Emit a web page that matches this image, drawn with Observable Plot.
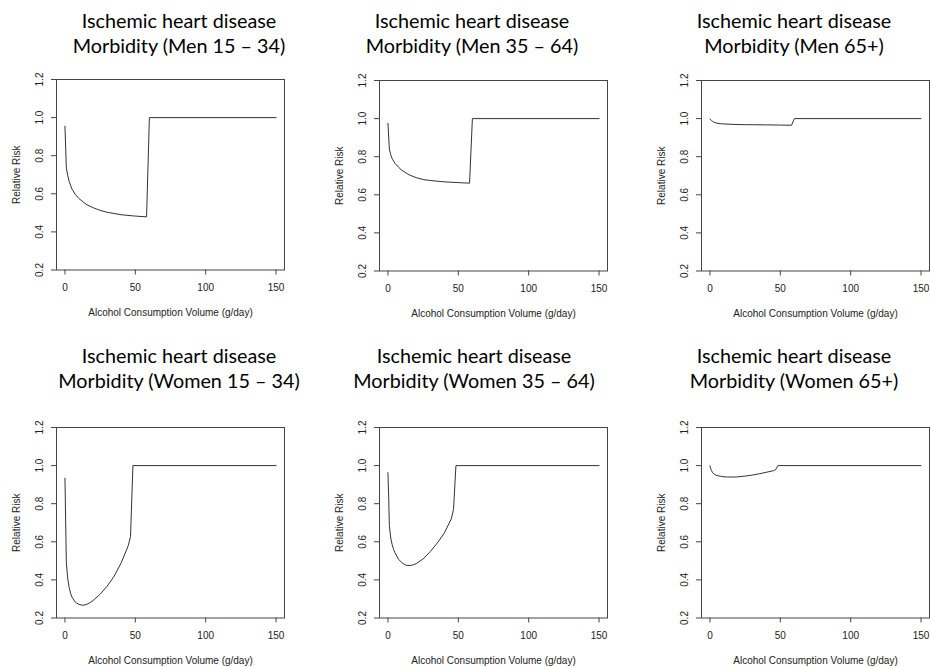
<!DOCTYPE html>
<html>
<head>
<meta charset="utf-8">
<script src="https://cdn.jsdelivr.net/npm/d3@7"></script>
<script src="https://cdn.jsdelivr.net/npm/@observablehq/plot@0.6"></script>
<style>
  html, body { margin: 0; padding: 0; background: #fff; }
  #root { position: relative; width: 930px; height: 667px; overflow: hidden; background: #fff; }
  .ttl { position: absolute; transform: translateX(-50%); white-space: nowrap; text-align: center;
         font-family: Lato, "Open Sans", sans-serif; font-size: 19.8px; line-height: 25px; color: #000; }
  .pnl { position: absolute; }
  .pnl svg { max-width: none !important; display: block; }
</style>
</head>
<body>
<div id="root"></div>
<script>
// ---- data ----
const titleLine1 = "Ischemic heart disease";
const titles = [
  "Morbidity (Men 15 – 34)", "Morbidity (Men 35 – 64)", "Morbidity (Men 65+)",
  "Morbidity (Women 15 – 34)", "Morbidity (Women 35 – 64)", "Morbidity (Women 65+)"
];
const xLabel = "Alcohol Consumption Volume (g/day)";
const yLabel = "Relative Risk";
const xTicks = [0, 50, 100, 150];
const yTicks = [0.2, 0.4, 0.6, 0.8, 1.0, 1.2];

const menX = [0, 1, 2, 3, 5, 7.5, 10, 15, 20, 25, 30, 40, 50, 58, 60, 150];
const men15_34 = [0.955, 0.735, 0.695, 0.665, 0.625, 0.595, 0.575, 0.545, 0.527, 0.513, 0.503, 0.49, 0.483, 0.479, 1.0, 1.0];
const men35_64 = [0.975, 0.84, 0.81, 0.79, 0.765, 0.745, 0.728, 0.705, 0.69, 0.68, 0.675, 0.668, 0.664, 0.661, 1.0, 1.0];
const men65 = [0.998, 0.99, 0.985, 0.98, 0.976, 0.973, 0.972, 0.97, 0.969, 0.968, 0.968, 0.967, 0.966, 0.965, 1.0, 1.0];

const womenX = [0, 0.5, 1, 2, 3, 4, 5, 7.5, 10, 12.5, 15, 17.5, 20, 25, 30, 35, 40, 45, 46.6, 48.3, 150];
const women15_34 = [0.934, 0.71, 0.49, 0.405, 0.36, 0.33, 0.31, 0.282, 0.271, 0.267, 0.27, 0.279, 0.292, 0.325, 0.367, 0.42, 0.49, 0.58, 0.628, 1.0, 1.0];
const women35_64 = [0.963, 0.84, 0.685, 0.62, 0.585, 0.56, 0.543, 0.508, 0.49, 0.478, 0.475, 0.478, 0.485, 0.51, 0.548, 0.593, 0.645, 0.72, 0.77, 1.0, 1.0];
const women65 = [0.998, 0.985, 0.975, 0.962, 0.955, 0.951, 0.948, 0.944, 0.941, 0.94, 0.94, 0.94, 0.941, 0.945, 0.95, 0.957, 0.965, 0.973, 0.978, 1.0, 1.0];

const seriesX = [menX, menX, menX, womenX, womenX, womenX];
const seriesY = [men15_34, men35_64, men65, women15_34, women35_64, women65];

// ---- layout (plot frame left/top, title centre & top) ----
const layout = [
  {left: 56, top: 78.5, tx: 179, ty: 7.5},
  {left: 379, top: 79.5, tx: 472, ty: 7.5},
  {left: 701, top: 79.5, tx: 794, ty: 7.5},
  {left: 56, top: 427, tx: 179, ty: 343},
  {left: 379, top: 427, tx: 474, ty: 343},
  {left: 701, top: 427, tx: 794, ty: 343}
];
const ML = 57, MT = 10, PW = 228, PH = 190.5, MR = 6, MB = 60;

const root = document.getElementById("root");

seriesY.forEach((ys, i) => {
  const xs = seriesX[i];
  const data = xs.map((x, j) => ({x, y: ys[j]}));
  const L = layout[i];
  const W = ML + PW + MR, H = MT + PH + MB;
  const svg = Plot.plot({
    width: W,
    height: H,
    marginLeft: ML, marginRight: MR, marginTop: MT, marginBottom: MB,
    style: {fontFamily: "'Liberation Sans', Arial, sans-serif", fontSize: "10px", color: "#222", background: "transparent", overflow: "visible", maxWidth: "none"},
    x: {domain: [-6, 156]},
    y: {domain: [0.2, 1.2]},
    marks: [
      Plot.frame({stroke: "#444"}),
      Plot.axisX({ticks: xTicks, tickSize: 5, tickPadding: 8.5, fontSize: 10, stroke: "#444",
                  label: xLabel, labelAnchor: "center", labelOffset: 46, labelArrow: "none"}),
      Plot.axisY({ticks: yTicks, tickSize: 5, tickRotate: -90, tickPadding: 9, fontSize: 10, stroke: "#444",
                  tickFormat: d => d.toFixed(1),
                  label: yLabel, labelAnchor: "center", labelOffset: 44, labelArrow: "none"}),
      Plot.line(data, {x: "x", y: "y", stroke: "#333", strokeWidth: 1})
    ]
  });
  const wrap = document.createElement("div");
  wrap.className = "pnl";
  wrap.style.left = (L.left - ML) + "px";
  wrap.style.top = (L.top - MT) + "px";
  wrap.style.width = W + "px";
  wrap.style.height = H + "px";
  wrap.appendChild(svg);
  root.appendChild(wrap);

  const t = document.createElement("div");
  t.className = "ttl";
  t.style.left = L.tx + "px";
  t.style.top = L.ty + "px";
  t.innerHTML = titleLine1 + "<br>" + titles[i];
  root.appendChild(t);
});
</script>
</body>
</html>
